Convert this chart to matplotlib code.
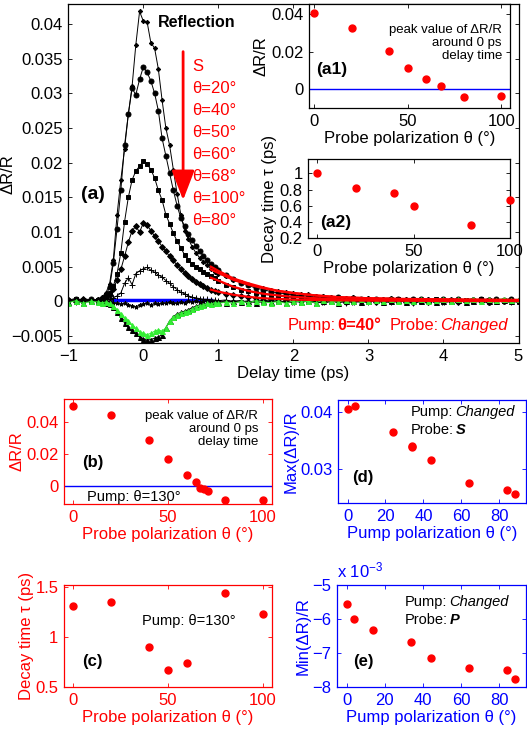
import numpy as np
import matplotlib
matplotlib.use('Agg')
import matplotlib.pyplot as plt
from matplotlib.ticker import FuncFormatter
from matplotlib.offsetbox import TextArea, HPacker, AnnotationBbox

plt.rcParams['font.family'] = ['Liberation Sans', 'DejaVu Sans']
plt.rcParams['mathtext.fontset'] = 'custom'
plt.rcParams['mathtext.rm'] = 'Liberation Sans'
plt.rcParams['mathtext.it'] = 'Liberation Sans:italic'

RED = '#ff0000'
BLUE = '#0000ff'
GREEN = '#33ee33'

# ---- panel (a): delay scans, values in units of 1e-3 ----
delay = [-1.0, -0.9, -0.8, -0.7, -0.6,
         -0.55, -0.5, -0.45, -0.4, -0.35, -0.3, -0.25, -0.2, -0.15, -0.1, -0.05,
         0.0, 0.05, 0.1, 0.15, 0.2, 0.25, 0.3, 0.35, 0.4, 0.45, 0.5, 0.55, 0.6,
         0.65, 0.7, 0.75, 0.8, 0.85, 0.9, 0.95, 1.0,
         1.1, 1.2, 1.3, 1.4, 1.5, 1.6, 1.7, 1.8, 1.9, 2.0,
         2.1, 2.2, 2.3, 2.4, 2.5, 2.6, 2.7, 2.8, 2.9, 3.0,
         3.1, 3.2, 3.3, 3.4, 3.5, 3.6, 3.7, 3.8, 3.9, 4.0,
         4.1, 4.2, 4.3, 4.4, 4.5, 4.6, 4.7, 4.8, 4.9, 5.0]

dr_s = [0.3, 0.1, 0.4, 0.2, 0.3,
        0.6, 1.2, 2.5, 6.0, 12.5, 17.5, 22.0, 27.0, 31.0, 37.0, 41.8,
        40.4, 40.3, 37.3, 36.5, 33.5, 29.0, 25.0, 22.5, 19.0, 15.5, 12.5, 10.2, 9.0,
        7.9, 7.0, 6.3, 5.7, 5.2, 4.7, 4.3, 4.0,
        3.6, 3.1, 2.8, 2.4, 2.1, 1.9, 1.7, 1.5, 1.3, 1.2,
        1.0, 1.0, 0.8, 0.8, 0.6, 0.7, 0.5, 0.6, 0.4, 0.5,
        0.3, 0.4, 0.5, 0.2, 0.4, 0.3, 0.1, 0.4, 0.2, 0.4,
        0.1, 0.3, 0.2, 0.4, 0.1, 0.4, 0.2, 0.1, 0.3, 0.2]
dr_20 = [0.2, 0.4, 0.1, 0.3, 0.2,
         0.4, 0.9, 2.0, 5.5, 10.5, 16.0, 22.5, 27.0, 30.7, 29.8, 32.0,
         33.8, 33.0, 31.8, 30.0, 27.5, 23.5, 21.0, 18.5, 16.0, 13.8, 12.0, 10.8, 9.7,
         8.8, 8.0, 7.2, 6.6, 6.0, 5.4, 5.0, 4.5,
         3.8, 3.2, 2.7, 2.3, 1.9, 1.7, 1.4, 1.2, 1.1, 0.9,
         0.8, 0.8, 0.6, 0.6, 0.5, 0.6, 0.4, 0.5, 0.3, 0.4,
         0.3, 0.2, 0.4, 0.3, 0.2, 0.3, 0.4, 0.2, 0.1, 0.3,
         0.2, 0.4, 0.1, 0.2, 0.3, 0.2, 0.3, 0.2, 0.4, 0.1]
dr_40 = [0.1, 0.3, 0.2, 0.0, 0.2,
         0.3, 0.6, 1.2, 2.2, 4.0, 7.0, 11.5, 15.0, 17.5, 18.8, 19.5,
         20.2, 19.8, 19.0, 17.8, 16.0, 14.6, 12.5, 11.2, 9.8, 8.7, 7.7, 6.7, 6.0,
         5.4, 5.0, 4.6, 4.3, 4.0, 3.6, 3.3, 3.0,
         2.4, 2.0, 1.7, 1.5, 1.2, 1.0, 0.9, 0.8, 0.6, 0.6,
         0.5, 0.4, 0.5, 0.3, 0.4, 0.2, 0.3, 0.1, 0.3, 0.2,
         0.0, 0.2, 0.1, 0.3, 0.1, 0.2, 0.0, 0.2, 0.3, 0.1,
         0.2, 0.0, 0.2, 0.1, 0.3, 0.0, 0.2, 0.1, 0.2, 0.0]
dr_50 = [0.2, 0.0, 0.3, 0.1, 0.2,
         0.2, 0.5, 0.9, 1.8, 3.1, 4.6, 6.5, 8.5, 10.2, 10.8, 10.0,
         11.3, 11.0, 10.2, 9.4, 8.7, 7.9, 7.2, 6.5, 5.9, 5.2, 4.6, 4.1, 3.6,
         3.2, 2.8, 2.5, 2.2, 1.9, 1.7, 1.5, 1.4,
         1.1, 0.9, 0.8, 0.6, 0.5, 0.5, 0.3, 0.4, 0.2, 0.3,
         0.1, 0.3, 0.2, 0.0, 0.2, 0.1, -0.1, 0.2, 0.0, 0.1,
         -0.1, 0.2, 0.0, 0.1, -0.1, 0.1, 0.2, -0.1, 0.1, 0.0,
         0.2, -0.1, 0.1, 0.0, 0.1, -0.1, 0.1, 0.0, 0.2, 0.0]
dr_60 = [0.1, -0.1, 0.2, 0.0, 0.1,
         0.0, 0.1, 0.3, 0.5, 0.8, 1.2, 2.6, 3.4, 2.4, 4.0, 4.4,
         4.7, 4.9, 4.5, 4.2, 3.8, 3.5, 3.0, 2.6, 2.1, 1.7, 1.3, 1.1, 0.8,
         0.6, 0.5, 0.4, 0.3, 0.3, 0.2, 0.2, 0.1,
         0.2, 0.0, 0.1, -0.1, 0.1, 0.2, 0.0, 0.1, -0.1, 0.1,
         0.0, 0.2, -0.1, 0.1, 0.0, 0.1, -0.2, 0.0, 0.1, -0.1,
         0.1, 0.0, -0.1, 0.1, 0.0, -0.2, 0.1, 0.0, -0.1, 0.1,
         0.0, 0.1, -0.1, 0.0, 0.1, -0.1, 0.0, 0.1, -0.1, 0.0]
dr_68 = [0.1, -0.1, 0.0, 0.2, -0.1,
         0.0, -0.1, 0.0, -0.2, -0.3, -0.4, -0.3, -0.5, -0.6, -0.8, -0.5,
         -0.4, -0.2, -0.5, -0.3, -0.4, -0.2, -0.3, -0.1, -0.2, -0.3, -0.1, -0.2, 0.0,
         -0.1, 0.1, -0.1, 0.0, 0.1, -0.1, 0.0, 0.1,
         -0.1, 0.0, 0.1, -0.2, 0.0, -0.1, 0.1, -0.1, 0.0, -0.2,
         0.1, -0.1, 0.0, -0.3, 0.0, -0.1, 0.1, -0.2, 0.0, -0.1,
         0.1, -0.2, 0.0, -0.1, 0.1, -0.3, 0.0, -0.1, 0.1, -0.2,
         0.0, -0.1, 0.2, -0.1, 0.0, -0.2, 0.1, -0.1, 0.0, -0.1]
dr_100 = [-0.2, 0.1, -0.3, 0.0, -0.1,
          -0.2, -0.1, -0.3, -0.7, -1.2, -1.8, -2.4, -2.9, -3.4, -3.9, -4.4,
          -4.6, -4.8, -4.6, -4.3, -4.1, -4.3, -3.8, -2.8, -2.3, -1.9, -1.7, -1.5, -1.4,
          -1.1, -0.8, -0.6, -0.5, -0.3, -0.4, -0.2, -0.3,
          -0.1, -0.3, 0.0, -0.2, 0.1, -0.1, -0.2, 0.0, -0.3, 0.1,
          -0.1, 0.0, -0.2, 0.2, 0.0, -0.1, 0.2, 0.0, 0.3, 0.1,
          0.2, 0.0, 0.3, 0.1, 0.2, 0.0, 0.3, 0.1, 0.2, 0.4,
          0.1, 0.3, 0.2, 0.4, 0.1, 0.3, 0.2, 0.4, 0.2, 0.3]
dr_80 = [-0.1, 0.1, -0.2, 0.1, 0.0,
         -0.1, -0.2, -0.4, -0.8, -1.5, -2.4, -3.1, -3.7, -4.2, -4.6, -5.1,
         -5.4, -5.6, -5.5, -5.3, -5.1, -4.8, -3.8, -2.8, -2.2, -1.8, -1.6, -1.4, -1.2,
         -0.9, -0.7, -0.5, -0.4, -0.3, -0.2, -0.3, -0.1,
         -0.2, 0.0, -0.1, 0.1, -0.2, 0.0, -0.1, 0.1, -0.2, 0.0,
         -0.1, 0.1, -0.3, 0.0, 0.1, -0.2, 0.0, 0.1, -0.1, 0.0,
         0.2, -0.1, 0.0, 0.2, -0.1, 0.1, 0.0, 0.2, -0.1, 0.1,
         0.0, 0.2, -0.1, 0.1, 0.3, 0.0, 0.1, 0.2, 0.0, 0.1]

# blue near-zero trace and red exponential fits (units of 1e-3)
blue_t = [-0.4, 0.9]
blue_v = [0.25, 0.25]
fit_t = [0.9, 1.0, 1.2, 1.4, 1.6, 1.8, 2.0, 2.3, 2.6, 3.0, 3.5, 4.0, 4.5, 5.0]
fit_20 = [5.0, 4.4, 3.3, 2.6, 2.0, 1.5, 1.2, 0.85, 0.6, 0.45, 0.3, 0.25, 0.2, 0.2]
fit_s = [4.6, 4.1, 3.1, 2.4, 1.9, 1.5, 1.2, 0.85, 0.6, 0.45, 0.35, 0.3, 0.25, 0.2]
fit_40 = [3.4, 3.0, 2.1, 1.5, 1.1, 0.85, 0.65, 0.45, 0.3, 0.2, 0.15, 0.15, 0.1, 0.1]
fit_50 = [1.7, 1.4, 0.95, 0.65, 0.45, 0.35, 0.25, 0.2, 0.15, 0.1, 0.1, 0.05, 0.05, 0.05]

curve_names = ['S', 'θ=20°', 'θ=40°', 'θ=50°', 'θ=60°', 'θ=68°', 'θ=100°', 'θ=80°']

# ---- insets (a1), (a2) ----
theta_a1 = [0, 20, 40, 50, 60, 68, 80, 100]
peak_a1 = [0.0403, 0.0327, 0.0201, 0.0115, 0.0055, 0.0018, -0.0043, -0.0036]
theta_a2 = [0, 20, 40, 50, 80, 100]
tau_a2 = [1.0, 0.815, 0.76, 0.59, 0.36, 0.67]

# ---- panels (b)-(e) ----
theta_b = [0, 20, 40, 50, 60, 65, 67, 69, 71, 80, 100]
peak_b = [0.0496, 0.0439, 0.0288, 0.0171, 0.0067, 0.0027, -0.0008, -0.0015, -0.0029, -0.0083, -0.0083]
theta_c = [0, 20, 40, 50, 60, 80, 100]
tau_c = [1.31, 1.35, 0.90, 0.67, 0.74, 1.44, 1.23]
theta_d = [0, 4, 24, 34, 34, 44, 64, 84, 88]
max_d = [0.0405, 0.0411, 0.0364, 0.0341, 0.0339, 0.0316, 0.0276, 0.0263, 0.0256]
theta_e = [0, 4, 14, 34, 44, 64, 84, 88]
min_e = [-5.56, -5.99, -6.31, -6.68, -7.16, -7.45, -7.50, -7.76]  # x 1e-3


def gfmt(v, pos):
    return ('%g' % v).replace('-', '\u2212')


def style(ax, color='k', size=12):
    ax.tick_params(direction='in', top=True, right=True, length=3, width=0.6,
                   labelsize=size, colors=color, pad=4)
    for s in ax.spines.values():
        s.set_color(color)
        s.set_linewidth(0.9)
    ax.xaxis.set_major_formatter(FuncFormatter(gfmt))
    ax.yaxis.set_major_formatter(FuncFormatter(gfmt))


def rich(ax, groups, xy, align, color, size, gsep):
    rows = []
    for grp in groups:
        kids = [TextArea(s, textprops=dict(color=color, size=size, **kw)) for s, kw in grp]
        rows.append(HPacker(children=kids, pad=0, sep=1.2, align='baseline'))
    pack = HPacker(children=rows, pad=0, sep=gsep, align='baseline')
    ab = AnnotationBbox(pack, xy, xycoords='axes fraction', box_alignment=align,
                        frameon=False, pad=0)
    ax.add_artist(ab)


fig = plt.figure(figsize=(5.27, 7.36), dpi=100)

# main panel
ax = fig.add_axes([0.1296, 0.534, 0.8543, 0.4599])
style(ax)
t = np.array(delay)
styles = [
    (dr_s, 'D', 2.2, 'k', 'k'),
    (dr_20, 'o', 3.6, 'k', 'k'),
    (dr_40, 's', 3.2, 'k', 'k'),
    (dr_50, 'D', 3.0, 'k', 'k'),
    (dr_60, '+', 4.0, 'k', 'k'),
    (dr_68, '*', 3.0, 'k', 'k'),
    (dr_80, '^', 3.6, 'k', 'k'),
    (dr_100, '^', 3.6, GREEN, GREEN),
]
ax.plot(blue_t, np.array(blue_v) * 1e-3, color=BLUE, lw=2.5, zorder=1.5)
for vals, mk, ms, lc, mc in styles:
    ax.plot(t, np.array(vals) * 1e-3, color=lc, lw=0.7, marker=mk, ms=ms,
            mfc=mc, mec=mc, mew=0.7, zorder=2)
for fv in [fit_20, fit_s, fit_40, fit_50]:
    ax.plot(fit_t, np.array(fv) * 1e-3, color=RED, lw=1.6, zorder=3)

ax.set_xlim(-1, 5)
ax.set_ylim(-0.006, 0.0428)
ax.set_xticks([-1, 0, 1, 2, 3, 4, 5])
ax.set_yticks([-0.005, 0, 0.005, 0.01, 0.015, 0.02, 0.025, 0.03, 0.035, 0.04])
ax.set_xlabel('Delay time (ps)', fontsize=12, labelpad=2)
ax.set_ylabel('ΔR/R', fontsize=12)
ax.yaxis.set_label_coords(-0.118, 0.5)

ax.text(0.286, 0.947, 'Reflection', transform=ax.transAxes, ha='center', va='center',
        fontsize=11.5, fontweight='bold')
ax.text(0.055, 0.438, '(a)', transform=ax.transAxes, ha='center', va='center',
        fontsize=14, fontweight='bold')
for i, name in enumerate(curve_names):
    ypix = 67 + i * 21.9
    ax.text(0.275, (343 - ypix) / 338.5, name, transform=ax.transAxes, ha='left',
            va='center', fontsize=12, color=RED)
ax.annotate('', xy=(0.53, 0.0146), xytext=(0.53, 0.036),
            arrowprops=dict(arrowstyle='-|>,head_width=0.5,head_length=1.3',
                            color=RED, lw=2, mutation_scale=14, shrinkA=0, shrinkB=0))
rich(ax, [[('Pump:', {}), ('θ=40°', {'weight': 'bold'})],
          [('Probe:', {}), ('Changed', {'style': 'italic'})]],
     (0.976, 0.053), (1, 0.5), RED, 12, 6)

# inset a1
a1 = fig.add_axes([0.5869, 0.8533, 0.3808, 0.1413])
style(a1)
a1.axhline(0, color=BLUE, lw=1)
a1.plot(theta_a1, peak_a1, 'o', color=RED, ms=5, zorder=3)
a1.set_xlim(-2.7, 104.7)
a1.set_ylim(-0.010, 0.0453)
a1.set_xticks([0, 50, 100])
a1.set_yticks([0, 0.02, 0.04])
a1.set_xlabel('Probe polarization θ (°)', fontsize=12, labelpad=2)
a1.set_ylabel('ΔR/R', fontsize=12, labelpad=2)
a1.text(0.96, 0.626, 'peak value of ΔR/R\naround 0 ps\ndelay time', transform=a1.transAxes,
        ha='right', va='center', multialignment='right', fontsize=9.5, linespacing=1.15)
a1.text(0.11, 0.37, '(a1)', transform=a1.transAxes, ha='center', va='center',
        fontsize=12.5, fontweight='bold')

# inset a2
a2 = fig.add_axes([0.585, 0.6766, 0.3827, 0.1073])
style(a2)
a2.plot(theta_a2, tau_a2, 'o', color=RED, ms=5, clip_on=False, zorder=3)
a2.set_xlim(-4.7, 100)
a2.set_ylim(0.195, 1.18)
a2.set_xticks([0, 50, 100])
a2.set_yticks([0.2, 0.4, 0.6, 0.8, 1.0])
a2.set_xlabel('Probe polarization θ (°)', fontsize=12, labelpad=2)
a2.set_ylabel('Decay time τ (ps)', fontsize=12, labelpad=2)
a2.text(0.134, 0.2, '(a2)', transform=a2.transAxes, ha='center', va='center',
        fontsize=12.5, fontweight='bold')

# panel b
axb = fig.add_axes([0.1214, 0.3152, 0.3947, 0.1427])
style(axb, RED)
axb.axhline(0, color=BLUE, lw=1)
axb.plot(theta_b, peak_b, 'o', color=RED, ms=5, zorder=3)
axb.set_xlim(-5, 105)
axb.set_ylim(-0.011, 0.054)
axb.set_xticks([0, 50, 100])
axb.set_yticks([0, 0.02, 0.04])
axb.set_xlabel('Probe polarization θ (°)', fontsize=12, color=RED, labelpad=2)
axb.set_ylabel('ΔR/R', fontsize=12, color=RED, labelpad=1)
axb.text(0.933, 0.714, 'peak value of ΔR/R\naround 0 ps\ndelay time', transform=axb.transAxes,
         ha='right', va='center', multialignment='right', fontsize=9.5, linespacing=1.15)
axb.text(0.11, 0.067, 'Pump: θ=130°', transform=axb.transAxes, ha='left', va='center',
         fontsize=10.5)
axb.text(0.14, 0.4, '(b)', transform=axb.transAxes, ha='center', va='center',
         fontsize=12, fontweight='bold')

# panel c
axc = fig.add_axes([0.1214, 0.0666, 0.3947, 0.1386])
style(axc, RED)
axc.plot(theta_c, tau_c, 'o', color=RED, ms=5, clip_on=False, zorder=3)
axc.set_xlim(-5, 105)
axc.set_ylim(0.5, 1.52)
axc.set_xticks([0, 50, 100])
axc.set_yticks([0.5, 1, 1.5])
axc.set_xlabel('Probe polarization θ (°)', fontsize=12, color=RED, labelpad=2)
axc.set_ylabel('Decay time τ (ps)', fontsize=12, color=RED, labelpad=1)
axc.text(0.375, 0.647, 'Pump: θ=130°', transform=axc.transAxes, ha='left', va='center',
         fontsize=10.5)
axc.text(0.135, 0.245, '(c)', transform=axc.transAxes, ha='center', va='center',
         fontsize=12, fontweight='bold')

# panel d
axd = fig.add_axes([0.6414, 0.3166, 0.3567, 0.1399])
style(axd, BLUE)
axd.plot(theta_d, max_d, 'o', color=RED, ms=5, zorder=3)
axd.set_xlim(-5, 94)
axd.set_ylim(0.024, 0.0421)
axd.set_xticks([0, 20, 40, 60, 80])
axd.set_yticks([0.03, 0.04])
axd.set_xlabel('Pump polarization θ (°)', fontsize=12, color=BLUE, labelpad=2)
axd.set_ylabel('Max(ΔR)/R', fontsize=12, color=BLUE, labelpad=1)
rich(axd, [[('Pump:', {}), ('Changed', {'style': 'italic'})]], (0.388, 0.883), (0, 0.5), 'k', 10.5, 0)
rich(axd, [[('Probe:', {}), ('S', {'style': 'italic', 'weight': 'bold'})]], (0.388, 0.709), (0, 0.5), 'k', 10.5, 0)
axd.text(0.133, 0.243, '(d)', transform=axd.transAxes, ha='center', va='center',
         fontsize=12, fontweight='bold')

# panel e
axe = fig.add_axes([0.6395, 0.0666, 0.3586, 0.1386])
style(axe, BLUE)
axe.plot(theta_e, min_e, 'o', color=RED, ms=5, zorder=3)
axe.set_xlim(-5, 94)
axe.set_ylim(-8, -5)
axe.set_xticks([0, 20, 40, 60, 80])
axe.set_yticks([-8, -7, -6, -5])
axe.set_xlabel('Pump polarization θ (°)', fontsize=12, color=BLUE, labelpad=2)
axe.set_ylabel('Min(ΔR)/R', fontsize=12, color=BLUE, labelpad=1)
axe.text(0.0, 1.147, r'x 10$^{\mathregular{-3}}$', transform=axe.transAxes, ha='left',
         va='center', fontsize=12, color=BLUE)
rich(axe, [[('Pump:', {}), ('Changed', {'style': 'italic'})]], (0.36, 0.833), (0, 0.5), 'k', 10.5, 0)
rich(axe, [[('Probe:', {}), ('P', {'style': 'italic', 'weight': 'bold'})]], (0.36, 0.657), (0, 0.5), 'k', 10.5, 0)
axe.text(0.138, 0.245, '(e)', transform=axe.transAxes, ha='center', va='center',
         fontsize=12, fontweight='bold')

fig.savefig('out.png', dpi=100)
